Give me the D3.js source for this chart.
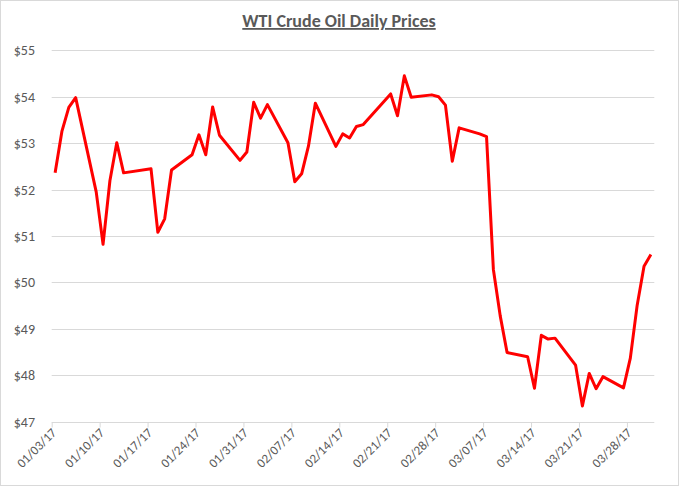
<!DOCTYPE html>
<html>
<head>
<meta charset="utf-8">
<script src="https://cdn.jsdelivr.net/npm/d3@7"></script>
<style>
  html, body { margin: 0; padding: 0; background: #fff; }
  svg { display: block; }
  text { font-family: Calibri, Carlito, Lato, "Open Sans", sans-serif; fill: #595959; }
</style>
</head>
<body>
<svg id="chart" width="679" height="486"></svg>
<script>
const title = "WTI Crude Oil Daily Prices";
const dates = [
  "2017-01-03","2017-01-04","2017-01-05","2017-01-06","2017-01-09","2017-01-10","2017-01-11","2017-01-12","2017-01-13",
  "2017-01-17","2017-01-18","2017-01-19","2017-01-20","2017-01-23","2017-01-24","2017-01-25","2017-01-26","2017-01-27",
  "2017-01-30","2017-01-31","2017-02-01","2017-02-02","2017-02-03","2017-02-06","2017-02-07","2017-02-08","2017-02-09","2017-02-10",
  "2017-02-13","2017-02-14","2017-02-15","2017-02-16","2017-02-17","2017-02-21","2017-02-22","2017-02-23","2017-02-24",
  "2017-02-27","2017-02-28","2017-03-01","2017-03-02","2017-03-03","2017-03-06","2017-03-07","2017-03-08","2017-03-09","2017-03-10",
  "2017-03-13","2017-03-14","2017-03-15","2017-03-16","2017-03-17","2017-03-20","2017-03-21","2017-03-22","2017-03-23","2017-03-24",
  "2017-03-27","2017-03-28","2017-03-29","2017-03-30","2017-03-31"
];
const prices = [
  52.36,53.26,53.77,53.98,51.95,50.82,52.19,53.01,52.36,
  52.45,51.08,51.37,52.42,52.75,53.18,52.75,53.78,53.17,
  52.63,52.81,53.88,53.54,53.83,53.01,52.17,52.34,52.94,53.86,
  52.93,53.20,53.11,53.36,53.40,54.06,53.59,54.45,53.99,
  54.04,54.00,53.82,52.61,53.33,53.20,53.14,50.28,49.28,48.49,
  48.40,47.72,48.86,48.78,48.80,48.22,47.34,48.04,47.71,47.97,
  47.73,48.37,49.51,50.35,50.60
];
const yTicks = [47,48,49,50,51,52,53,54,55];
const xTickDates = ["2017-01-03","2017-01-10","2017-01-17","2017-01-24","2017-01-31","2017-02-07","2017-02-14",
  "2017-02-21","2017-02-28","2017-03-07","2017-03-14","2017-03-21","2017-03-28"];
const xDomain = ["2017-01-03","2017-04-01"];

const parse = d3.utcParse("%Y-%m-%d");
const fmt = d3.utcFormat("%m/%d/%y");
const svg = d3.select("#chart");
const W = 679, H = 486;

svg.append("rect").attr("x",0.5).attr("y",0.5).attr("width",W-1).attr("height",H-1)
  .attr("fill","#fff").attr("stroke","#d9d9d9");

const x = d3.scaleUtc().domain(xDomain.map(parse)).range([51.7, 654.3]);
const y = d3.scaleLinear().domain([47,55]).range([421.7, 50.3]);

// gridlines
svg.append("g").selectAll("line").data(yTicks.slice(1)).join("line")
  .attr("x1",51.7).attr("x2",654.3)
  .attr("y1",d=>Math.round(y(d))+0.5).attr("y2",d=>Math.round(y(d))+0.5)
  .attr("stroke","#d9d9d9").attr("stroke-width",1);

// y axis labels
const yAxis = d3.axisLeft(y).tickValues(yTicks).tickSize(0).tickPadding(0).tickFormat(d=>"$"+d);
const gy = svg.append("g").attr("transform","translate(35,0)").call(yAxis);
gy.select(".domain").remove();
gy.selectAll("text").attr("font-size","14px").attr("fill","#595959");

// x axis
const xAxis = d3.axisBottom(x).tickValues(xTickDates.map(parse)).tickSize(5).tickSizeOuter(0).tickFormat(fmt);
const gx = svg.append("g").attr("transform",`translate(0,${Math.round(y(47))+0.5})`).call(xAxis);
gx.select(".domain").attr("stroke","#d9d9d9").attr("d",`M51.7,0H654.3`);
gx.selectAll(".tick line").attr("stroke","#d9d9d9");
gx.selectAll("text").attr("font-size","13px").attr("fill","#595959")
  .attr("text-anchor","end").attr("dy",null).attr("y",0)
  .attr("transform","translate(5,11) rotate(-45)");

// line
const half = 12*3600*1000;
const data = dates.map((d,i)=>({date: parse(d), v: prices[i]}));
svg.append("path").datum(data)
  .attr("fill","none").attr("stroke","#ff0000").attr("stroke-width",3)
  .attr("stroke-linejoin","round")
  .attr("d", d3.line().x(d=>x(new Date(d.date.getTime()+half))).y(d=>y(d.v)));

// title
svg.append("text").attr("x",339).attr("y",27).attr("text-anchor","middle")
  .attr("font-size","18px").attr("font-weight","bold").attr("fill","#595959")
  .attr("text-decoration","underline").text(title);
</script>
</body>
</html>
